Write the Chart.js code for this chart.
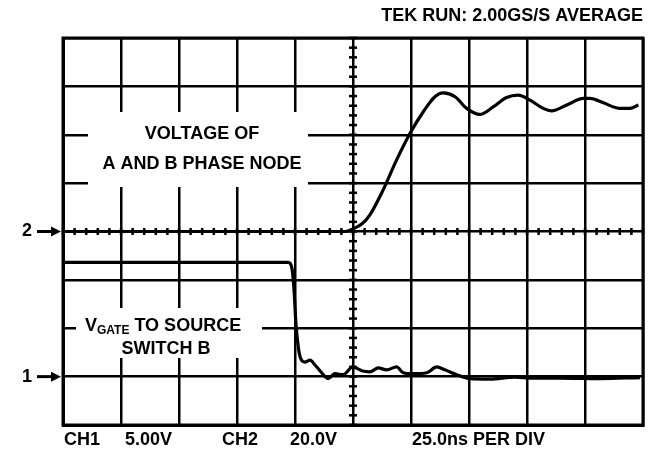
<!DOCTYPE html>
<html>
<head>
<meta charset="utf-8">
<script src="https://cdn.jsdelivr.net/npm/chart.js@4.4.0/dist/chart.umd.min.js"></script>
<style>
  body { margin: 0; background: #fff; }
  canvas { display: block; }
</style>
</head>
<body>
<canvas id="scope" width="652" height="450"></canvas>
<script>
// 25ns per div, 10 divisions across
var timeMin = 0, timeMax = 250, timeStep = 25;
// CH1 5.00V/div, ground on div 1 of 8
var ch1Min = -5, ch1Max = 35, ch1Step = 5;
// CH2 20.0V/div, ground on centre line
var ch2Min = -80, ch2Max = 80;

// CH2 - voltage of A and B phase node (V)
var ch2Time  = [0, 60, 121.6, 125, 128.9, 132.3, 138, 143.8, 149.6, 155.3, 160.3, 163.9, 169, 174, 179.7, 185.4, 191.2, 196.2, 201.3, 207, 210.6, 217.1, 224.3, 227.2, 232.9, 240.1, 244.4, 248];
var ch2Volts = [0, 0, 0, 1.1, 3.2, 6.9, 17.2, 29.6, 40.6, 49.5, 55.7, 57.3, 55.7, 50.9, 48.4, 51.5, 55.4, 56.4, 54.3, 50.9, 49.9, 52.3, 55, 55, 53.2, 50.9, 50.9, 52.3];

// CH1 - Vgate to source, switch B (V)
var ch1Time  = [0, 50, 97.1, 98.6, 99.6, 100.4, 101.4, 102.4, 104.3, 106.5, 108.6, 110.8, 114.3, 117.2, 120.8, 124.9, 128.8, 132.3, 135.9, 139.5, 143.8, 146.7, 151, 156.8, 161.1, 164.6, 169.7, 175.4, 184, 194.8, 201.3, 214.2, 231.4, 248.7];
var ch1Volts = [11.8, 11.8, 11.8, 11.3, 8.9, 5.5, 3.1, 1.9, 1.5, 1.7, 1.2, 0.6, -0.2, 0.3, 0.2, 1.0, 0.6, 0.5, 0.9, 0.7, 1.0, 0.4, 0.3, 0.4, 1.0, 0.7, 0.2, -0.2, -0.25, -0.05, -0.15, -0.15, -0.2, -0.1];

var headerText = 'TEK RUN: 2.00GS/S AVERAGE';
var footerText = [['CH1', 64], ['5.00V', 125], ['CH2', 222], ['20.0V', 290], ['25.0ns PER DIV', 412]];

function pts(xs, ys) {
  var out = [];
  for (var i = 0; i < xs.length; i++) out.push({x: xs[i], y: ys[i]});
  return out;
}

var FONT = 'bold 18px "Liberation Sans", Arial, sans-serif';

function arrow(ctx, label, y) {
  ctx.fillStyle = '#000';
  ctx.font = FONT;
  ctx.textAlign = 'left';
  ctx.textBaseline = 'middle';
  ctx.fillText(label, 22, y);
  ctx.strokeStyle = '#000';
  ctx.lineWidth = 3;
  ctx.beginPath();
  ctx.moveTo(37, y);
  ctx.lineTo(53, y);
  ctx.stroke();
  ctx.beginPath();
  ctx.moveTo(61, y);
  ctx.lineTo(51, y - 5);
  ctx.lineTo(51, y + 5);
  ctx.closePath();
  ctx.fill();
}

var scopeDecor = {
  id: 'scopeDecor',
  beforeDatasetsDraw: function (chart) {
    var ctx = chart.ctx, a = chart.chartArea;
    var xs = chart.scales.x, ys = chart.scales.y;
    var cx = xs.getPixelForValue((timeMin + timeMax) / 2);
    var cy = ys.getPixelForValue((ch1Min + ch1Max) / 2);
    ctx.save();
    ctx.strokeStyle = '#000';
    ctx.lineWidth = 2.5;
    // minor ticks on the centre cross, 5 per div
    var i, p;
    for (i = 0; i <= 40; i++) {
      p = ys.getPixelForValue(ch1Min + i * ch1Step / 5);
      ctx.beginPath(); ctx.moveTo(cx - 4, p); ctx.lineTo(cx + 4, p); ctx.stroke();
    }
    for (i = 0; i <= 50; i++) {
      p = xs.getPixelForValue(timeMin + i * timeStep / 5);
      ctx.beginPath(); ctx.moveTo(p, cy - 3.5); ctx.lineTo(p, cy + 3.5); ctx.stroke();
    }
    // white boxes behind the trace labels
    ctx.fillStyle = '#fff';
    ctx.fillRect(88, 112, 220, 75);
    ctx.fillRect(76, 308, 186, 50);
    // frame
    ctx.lineWidth = 3;
    ctx.strokeRect(a.left, a.top, a.right - a.left, a.bottom - a.top);
    ctx.restore();
  },
  afterDraw: function (chart) {
    var ctx = chart.ctx, a = chart.chartArea;
    ctx.save();
    ctx.fillStyle = '#000';
    ctx.font = FONT;
    ctx.textBaseline = 'middle';
    ctx.textAlign = 'right';
    ctx.fillText(headerText, a.right, 16);
    ctx.textAlign = 'left';
    footerText.forEach(function (f) { ctx.fillText(f[0], f[1], 440); });

    ctx.textAlign = 'center';
    ctx.fillText('VOLTAGE OF', 202, 134);
    ctx.fillText('A AND B PHASE NODE', 202, 164);

    // V_GATE TO SOURCE
    ctx.textAlign = 'left';
    ctx.textBaseline = 'alphabetic';
    var x = 85;
    ctx.fillText('V', x, 331);
    x += ctx.measureText('V').width;
    ctx.font = 'bold 12px "Liberation Sans", Arial, sans-serif';
    ctx.fillText('GATE', x, 334);
    x += ctx.measureText('GATE').width;
    ctx.font = FONT;
    ctx.fillText(' TO SOURCE', x, 331);
    ctx.textAlign = 'center';
    ctx.textBaseline = 'middle';
    ctx.fillText('SWITCH B', 166, 349);

    arrow(ctx, '2', chart.scales.y2.getPixelForValue(0));
    arrow(ctx, '1', chart.scales.y.getPixelForValue(0));
    ctx.restore();
  }
};

var gridOpts = { color: '#000', lineWidth: 2.5, drawTicks: false };

new Chart(document.getElementById('scope'), {
  type: 'line',
  data: {
    datasets: [{
      label: 'CH2',
      data: pts(ch2Time, ch2Volts),
      yAxisID: 'y2',
      borderColor: '#000',
      borderWidth: 3.2,
      pointRadius: 0,
      cubicInterpolationMode: 'monotone'
    }, {
      label: 'CH1',
      data: pts(ch1Time, ch1Volts),
      yAxisID: 'y',
      borderColor: '#000',
      borderWidth: 3.2,
      pointRadius: 0,
      cubicInterpolationMode: 'monotone'
    }]
  },
  options: {
    responsive: false,
    animation: false,
    layout: { padding: { left: 63, top: 38, right: 9, bottom: 25 } },
    plugins: { legend: { display: false }, tooltip: { enabled: false } },
    scales: {
      x: {
        type: 'linear', min: timeMin, max: timeMax,
        ticks: { stepSize: timeStep, display: false },
        grid: gridOpts,
        border: { color: '#000', width: 3 }
      },
      y: {
        min: ch1Min, max: ch1Max,
        ticks: { stepSize: ch1Step, display: false },
        grid: gridOpts,
        border: { color: '#000', width: 3 }
      },
      y2: { display: false, min: ch2Min, max: ch2Max }
    }
  },
  plugins: [scopeDecor]
});
</script>
</body>
</html>
